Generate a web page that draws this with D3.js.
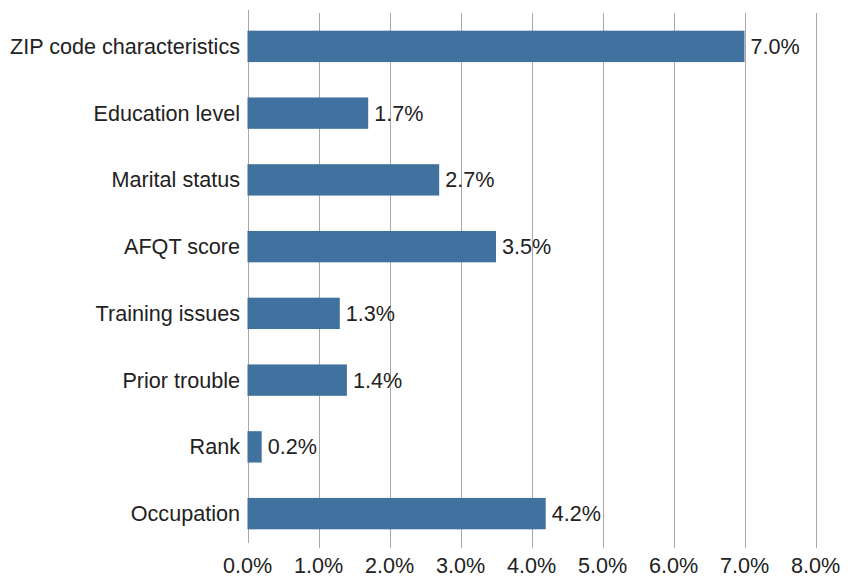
<!DOCTYPE html>
<html>
<head>
<meta charset="utf-8">
<script src="https://cdn.jsdelivr.net/npm/d3@7"></script>
<style>
  html, body { margin: 0; padding: 0; background: #fff; }
  svg { display: block; font-family: "Liberation Sans", Arial, Helvetica, sans-serif; }
</style>
</head>
<body>
<svg id="vis" width="853" height="578"></svg>
<script>
const categories = [
  "ZIP code characteristics",
  "Education level",
  "Marital status",
  "AFQT score",
  "Training issues",
  "Prior trouble",
  "Rank",
  "Occupation"
];
const values = [0.070, 0.017, 0.027, 0.035, 0.013, 0.014, 0.002, 0.042];
const xTicks = [0, 0.01, 0.02, 0.03, 0.04, 0.05, 0.06, 0.07, 0.08];

const config = {
  barColor: "#41729f",
  gridColor: "#a8a8a8",
  textColor: "#222",
  fontSize: 21.6,
};

const svg = d3.select("#vis");

const x = d3.scaleLinear().domain([0, 0.08]).range([247.5, 815.5]);
const y = d3.scaleBand()
  .domain(categories)
  .range([13, 547])
  .paddingInner(0.53)
  .paddingOuter(0.265);

const fmt = d3.format(".1%");

// gridlines
svg.append("g")
  .selectAll("line")
  .data(xTicks)
  .join("line")
  .attr("x1", d => Math.round(x(d)) + 0.5)
  .attr("x2", d => Math.round(x(d)) + 0.5)
  .attr("y1", d => d === 0 ? 10 : 13)
  .attr("y2", d => d === 0 ? 543 : 548)
  .attr("stroke", config.gridColor)
  .attr("stroke-width", 1);

// bars
svg.append("g")
  .selectAll("rect")
  .data(categories)
  .join("rect")
  .attr("x", x(0))
  .attr("y", d => y(d))
  .attr("width", (d, i) => x(values[i]) - x(0))
  .attr("height", y.bandwidth())
  .attr("fill", config.barColor);

// value labels
svg.append("g")
  .selectAll("text")
  .data(categories)
  .join("text")
  .attr("x", (d, i) => x(values[i]) + 6)
  .attr("y", d => y(d) + y.bandwidth() / 2)
  .attr("dy", "0.35em")
  .attr("font-size", config.fontSize)
  .attr("fill", config.textColor)
  .text((d, i) => fmt(values[i]));

// category labels
svg.append("g")
  .selectAll("text")
  .data(categories)
  .join("text")
  .attr("x", 240)
  .attr("y", d => y(d) + y.bandwidth() / 2)
  .attr("dy", "0.35em")
  .attr("text-anchor", "end")
  .attr("font-size", config.fontSize)
  .attr("fill", config.textColor)
  .text(d => d);

// x tick labels
svg.append("g")
  .selectAll("text")
  .data(xTicks)
  .join("text")
  .attr("x", d => x(d))
  .attr("y", 573)
  .attr("text-anchor", "middle")
  .attr("font-size", config.fontSize)
  .attr("fill", config.textColor)
  .text(d => fmt(d));
</script>
</body>
</html>
